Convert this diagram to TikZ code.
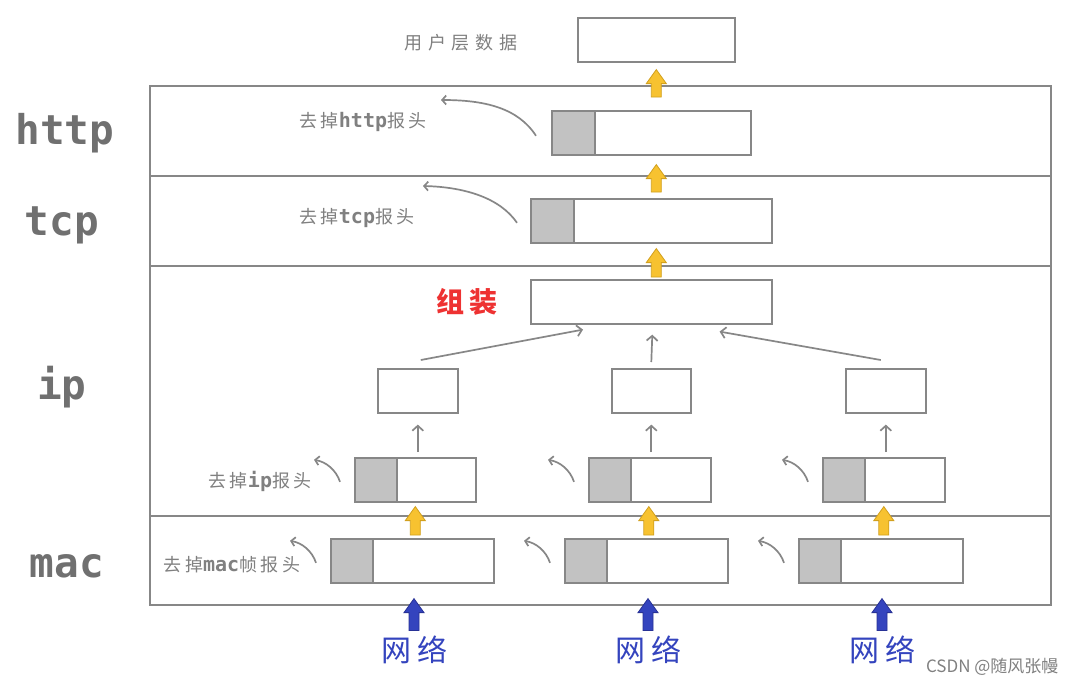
\documentclass[tikz,border=0pt]{standalone}
\usepackage{fontspec}
\usetikzlibrary{arrows.meta,calc}
\newfontfamily\cjk[LetterSpace=20]{Noto Sans CJK SC}
\newfontfamily\cjkplain{Noto Sans CJK SC}
\newfontfamily\lmono{DejaVu Sans Mono}
\definecolor{linegray}{RGB}{135,135,135}
\definecolor{hdrgray}{RGB}{194,194,194}
\definecolor{labgray}{RGB}{112,112,112}
\definecolor{txtgray}{RGB}{128,128,128}
\definecolor{yel}{RGB}{247,194,48}
\definecolor{yeldark}{RGB}{210,160,30}
\definecolor{blu}{RGB}{52,68,190}
\definecolor{bludark}{RGB}{40,50,150}
\definecolor{redtxt}{RGB}{238,50,50}
% #1 tip point, #2 tail point (only its y is used)
\newcommand\blk[3]{%
  \filldraw[#3] let \p1=#1, \p2=#2 in
   (\x1,\y1) -- (\x1+10pt,\y1-14pt) -- (\x1+5pt,\y1-14pt) -- (\x1+5pt,\y2)
   -- (\x1-5pt,\y2) -- (\x1-5pt,\y1-14pt) -- (\x1-10pt,\y1-14pt) -- cycle;}
\newcommand\curl[1]{%
  \draw[curv] ($(#1.west)+(-14,2)$) .. controls ($(#1.west)+(-18,-10)$) and ($(#1.west)+(-28,-18)$) .. ($(#1.west)+(-40,-20)$);}
\tikzset{
  box/.style={draw=linegray, line width=1.6pt, fill=white, inner sep=0pt, anchor=north west},
  hdr/.style={box, fill=hdrgray},
  frame/.style={draw=linegray, line width=1.6pt},
  layer/.style={font=\lmono\bfseries\fontsize{41}{41}\selectfont, text=labgray},
  rmlab/.style={text=txtgray, inner sep=0pt},
  thinarr/.style={draw=linegray, line width=1.7pt, -{Straight Barb[length=5pt,width=11pt,line width=1.7pt]}},
  curv/.style={draw=linegray, line width=1.7pt, -{Straight Barb[length=4pt,width=9pt,line width=1.7pt]}},
  yarr/.style={fill=yel, draw=yeldark, line width=0.8pt},
  barr/.style={fill=blu, draw=bludark, line width=0.8pt},
  net/.style={text=blu, font=\cjk\fontsize{30}{30}\selectfont}
}
\newcommand\cj[1]{{\cjk\fontsize{18}{18}\selectfont #1}}
\newcommand\lt[1]{{\lmono\bfseries\fontsize{20}{20}\selectfont #1}}
\begin{document}
\begin{tikzpicture}[x=1pt,y=-1pt]
\useasboundingbox (0,0) rectangle (1076,686);
\fill[white] (0,0) rectangle (1076,686);
% frame
\draw[frame] (150,86) rectangle (1051,605);
\draw[frame] (150,176) -- (1051,176);
\draw[frame] (150,266) -- (1051,266);
\draw[frame] (150,516) -- (1051,516);
% layer labels
\node[layer] (Lhttp) at (65,133) {http};
\node[layer] (Ltcp) at (62,225) {tcp};
\node[layer] (Lip) at (62,387) {ip};
\node[layer] (Lmac) at (67,566) {mac};
% top
\node[box, minimum width=157pt, minimum height=44pt] (top) at (577,17) {};
\node[rmlab, font=\cjkplain\fontsize{18}{18}\selectfont\addfontfeature{LetterSpace=32}] (toplab) at (461,43) {用户层数据};
% http
\node[box, minimum width=199pt, minimum height=44pt] (hp) at (551,110) {};
\node[hdr, minimum width=43pt, minimum height=44pt] (hph) at (551,110) {};
\node[rmlab] (hplab) at (363,122) {\cj{去掉}\lt{http}\cj{报头}};
% tcp
\node[box, minimum width=241pt, minimum height=44pt] (tp) at (530,198) {};
\node[hdr, minimum width=43pt, minimum height=44pt] (tph) at (530,198) {};
\node[rmlab] (tplab) at (357,218) {\cj{去掉}\lt{tcp}\cj{报头}};
% assembled
\node[box, minimum width=241pt, minimum height=44pt] (asm) at (530,279) {};
\node[text=redtxt, font=\cjk\bfseries\fontsize{28}{28}\selectfont] (asmlab) at (467,302) {组装};
% ip small boxes
\node[box, minimum width=80pt, minimum height=44pt] (s1) at (377,368) {};
\node[box, minimum width=79pt, minimum height=44pt] (s2) at (611,368) {};
\node[box, minimum width=80pt, minimum height=44pt] (s3) at (845,368) {};
% ip packets
\node[box, minimum width=121pt, minimum height=44pt] (ip1) at (354,457) {};
\node[hdr, minimum width=42pt, minimum height=44pt] (ip1h) at (354,457) {};
\node[box, minimum width=122pt, minimum height=44pt] (ip2) at (588,457) {};
\node[hdr, minimum width=42pt, minimum height=44pt] (ip2h) at (588,457) {};
\node[box, minimum width=122pt, minimum height=44pt] (ip3) at (822,457) {};
\node[hdr, minimum width=42pt, minimum height=44pt] (ip3h) at (822,457) {};
\node[rmlab] (iplab) at (260,481) {\cj{去掉}\lt{ip}\cj{报头}};
% mac packets
\node[box, minimum width=163pt, minimum height=44pt] (m1) at (330,538) {};
\node[hdr, minimum width=42pt, minimum height=44pt] (m1h) at (330,538) {};
\node[box, minimum width=163pt, minimum height=44pt] (m2) at (564,538) {};
\node[hdr, minimum width=42pt, minimum height=44pt] (m2h) at (564,538) {};
\node[box, minimum width=164pt, minimum height=44pt] (m3) at (798,538) {};
\node[hdr, minimum width=42pt, minimum height=44pt] (m3h) at (798,538) {};
\node[rmlab] (maclab) at (232,565) {\cj{去掉}\lt{mac}\cj{帧报头}};
% network labels
\node[net] (n1) at (414,650) {网络};
\node[net] (n2) at (648,650) {网络};
\node[net] (n3) at (882,650) {网络};
% watermark
\node[text=txtgray, font=\cjkplain\fontsize{17}{17}\selectfont, anchor=east] (wm) at (1062,667) {CSDN @随风张幔};
% block arrows
\blk{([yshift=-7pt]top.south)}{([yshift=13pt]hp.north)}{yarr}
\blk{([xshift=5pt,yshift=-9pt]hp.south)}{([yshift=6pt]tp.north)}{yarr}
\blk{([xshift=5pt,yshift=-5pt]tp.south)}{([yshift=2pt]asm.north)}{yarr}
\blk{([yshift=-4pt]ip1.south)}{([yshift=3pt]m1.north)}{yarr}
\blk{([xshift=-1pt,yshift=-4pt]ip2.south)}{([yshift=3pt]m2.north)}{yarr}
\blk{([yshift=-4pt]ip3.south)}{([yshift=3pt]m3.north)}{yarr}
\blk{([yshift=-15pt]m1.south -| n1.north)}{([yshift=2pt]n1.north)}{barr}
\blk{([yshift=-15pt]m2.south -| n2.north)}{([yshift=2pt]n2.north)}{barr}
\blk{([yshift=-15pt]m3.south -| n3.north)}{([yshift=2pt]n3.north)}{barr}
% thin arrows
\draw[thinarr] ([yshift=5pt]s1.south |- ip1.north) -- ([yshift=-11pt]s1.south);
\draw[thinarr] ([yshift=5pt]s2.south |- ip2.north) -- ([yshift=-11pt]s2.south);
\draw[thinarr] ([yshift=5pt]s3.south |- ip3.north) -- ([yshift=-11pt]s3.south);
\draw[thinarr] ([xshift=3pt,yshift=8pt]s1.north) -- ([xshift=53pt,yshift=-5pt]asm.south west);
\draw[thinarr] ([yshift=6pt]s2.north) -- ([xshift=1pt,yshift=-10pt]asm.south);
\draw[thinarr] ([xshift=-5pt,yshift=8pt]s3.north) -- ([xshift=-53pt,yshift=-7pt]asm.south east);
% curved arrows
\coordinate (hpend) at (441,100);
\coordinate (tpend) at (423,186);
\draw[curv] ($(hph.west)+(-15,3)$) .. controls (518,108) and (485,100) .. (hpend);
\draw[curv] ($(tph.west)+(-13,2)$) .. controls (500,198) and (465,187) .. (tpend);
\curl{ip1h}
\curl{ip2h}
\curl{ip3h}
\curl{m1h}
\curl{m2h}
\curl{m3h}
\end{tikzpicture}
\end{document}
